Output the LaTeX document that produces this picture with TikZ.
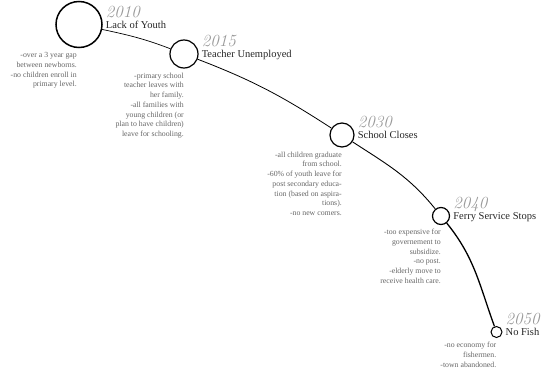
\documentclass[tikz,border=0pt]{standalone}
\usepackage{fontspec}
\usepackage{tikz}
\newfontfamily\garfont{Liberation Serif}

\begin{document}
\begin{tikzpicture}[x=1pt,y=1pt]
    \tikzstyle{event}=[circle,draw=black,fill=white,line width=1.2pt,inner sep=0pt]
    \tikzstyle{title}=[anchor=base west,inner sep=0pt,text=black!85,font=\garfont\fontsize{10.5}{12}\selectfont]
    \tikzstyle{year}=[anchor=base west,inner sep=0pt,text=black!40,font=\itshape\fontsize{17}{17}\selectfont]
    \tikzstyle{note}=[anchor=north east,align=right,inner sep=0pt,text=black!60,font=\garfont\fontsize{7.8}{9.7}\selectfont]
    \useasboundingbox (0,0) rectangle (544,-372);
    \clip (0,0) rectangle (544,-372);
    % events along the time line
    \node[event,minimum size=46pt,line width=1.5pt] (e2010) at (79,-24.5) {};
    \node[event,minimum size=28pt] (e2015) at (184,-54) {};
    \node[event,minimum size=24pt] (e2030) at (342,-135) {};
    \node[event,minimum size=17pt] (e2040) at (441,-216) {};
    \node[event,minimum size=11pt,line width=1pt] (e2050) at (496.5,-332) {};
    % the time line
    \draw[line width=0.7pt] (e2010) to[out=-12,in=159] (e2015);
    \draw[line width=0.8pt] (e2015) to[out=-21,in=147] (e2030);
    \draw[line width=0.9pt] (e2030) to[out=-33,in=129] (e2040);
    \draw[line width=1.3pt] (e2040) to[out=-51,in=110] (e2050);
    % titles and years
    \node[title] (t2010) at ([xshift=3pt,yshift=-3.5pt]e2010.east) {Lack of Youth};
    \node[title] (t2015) at ([xshift=3pt,yshift=-3.5pt]e2015.east) {Teacher Unemployed};
    \node[title] (t2030) at ([xshift=3pt,yshift=-3.5pt]e2030.east) {School Closes};
    \node[title] (t2040) at ([xshift=3pt,yshift=-3.5pt]e2040.east) {Ferry Service Stops};
    \node[title] (t2050) at ([xshift=3pt,yshift=-3.5pt]e2050.east) {No Fish};
    \node[year] (y2010) at ([yshift=11pt]t2010.base west) {2010};
    \node[year] (y2015) at ([yshift=11pt]t2015.base west) {2015};
    \node[year] (y2030) at ([yshift=11pt]t2030.base west) {2030};
    \node[year] (y2040) at ([yshift=11pt]t2040.base west) {2040};
    \node[year] (y2050) at ([yshift=11pt]t2050.base west) {2050};
    % notes
    \node[note] (n2010) at ([xshift=-2pt,yshift=-4pt]e2010.south) {-over a 3 year gap\\between newborns.\\-no children enroll in\\primary level.};
    \node[note] (n2015) at ([yshift=-4pt]e2015.south) {-primary school\\teacher leaves with\\her family.\\-all families with\\young children (or\\plan to have children)\\leave for schooling.};
    \node[note] (n2030) at ([yshift=-4pt]e2030.south) {-all children graduate\\from school.\\-60\% of youth leave for\\post secondary educa-\\tion (based on aspira-\\tions).\\-no new comers.};
    \node[note] (n2040) at ([yshift=-4pt]e2040.south) {-too expensive for\\governement to\\subsidize.\\-no post.\\-elderly move to\\receive health care.};
    \node[note] (n2050) at ([yshift=-4pt]e2050.south) {-no economy for\\fishermen.\\-town abandoned.};
\end{tikzpicture}
\end{document}
